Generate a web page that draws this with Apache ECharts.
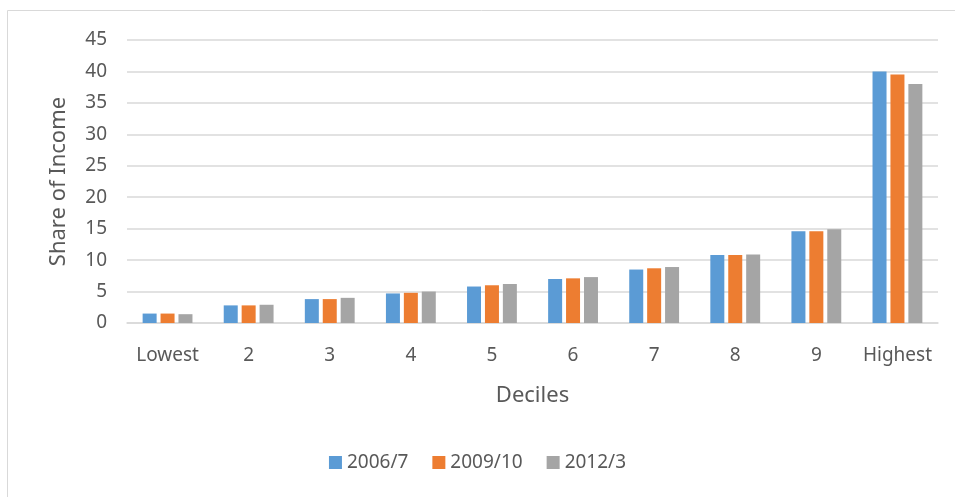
<!DOCTYPE html>
<html>
<head>
<meta charset="utf-8">
<script src="https://cdn.jsdelivr.net/npm/echarts@6/dist/echarts.min.js"></script>
<style>
  html, body { margin: 0; padding: 0; background: #fff; }
  #chart { width: 955px; height: 497px; }
</style>
</head>
<body>
<div id="chart"></div>
<script>
// deciles and income shares
const deciles = ["Lowest", "2", "3", "4", "5", "6", "7", "8", "9", "Highest"];
const share2006 = [1.5, 2.8, 3.8, 4.7, 5.8, 7.0, 8.5, 10.8, 14.6, 40.0];
const share2009 = [1.5, 2.8, 3.8, 4.8, 6.0, 7.1, 8.7, 10.8, 14.6, 39.5];
const share2012 = [1.4, 2.9, 4.0, 5.0, 6.2, 7.3, 8.9, 10.9, 14.9, 38.0];
const seriesNames = ["2006/7", "2009/10", "2012/3"];

const myChart = echarts.init(document.getElementById("chart"));
const font = "Noto Sans";
const textColor = "#595959";

myChart.setOption({
  animation: false,
  color: ["#5b9bd5", "#ed7d31", "#a5a5a5"],
  textStyle: { fontFamily: font },
  graphic: [
    {
      type: "rect",
      shape: { x: 7.5, y: 10.5, width: 960, height: 500 },
      style: { fill: "none", stroke: "#d9d9d9", lineWidth: 1 },
    },
  ],
  grid: { left: 127, right: 17, top: 40, bottom: 174 },
  legend: {
    bottom: 20,
    itemWidth: 13,
    itemHeight: 13,
    itemGap: 24,
    icon: "rect",
    textStyle: { color: textColor, fontSize: 19, fontFamily: font },
    data: seriesNames,
  },
  xAxis: {
    type: "category",
    data: deciles,
    name: "Deciles",
    nameLocation: "middle",
    nameGap: 62,
    nameTextStyle: { color: textColor, fontSize: 22, fontFamily: font },
    axisLine: { lineStyle: { color: "#d9d9d9", width: 1.5 } },
    axisTick: { show: false },
    axisLabel: { color: textColor, fontSize: 19, margin: 23, interval: 0, fontFamily: font },
  },
  yAxis: {
    type: "value",
    min: 0,
    max: 45,
    interval: 5,
    name: "Share of Income",
    nameLocation: "middle",
    nameGap: 57,
    nameTextStyle: { color: textColor, fontSize: 22, fontFamily: font },
    axisLine: { show: false },
    axisTick: { show: false },
    axisLabel: { color: textColor, fontSize: 19, margin: 20, fontFamily: font },
    splitLine: { lineStyle: { color: "#d9d9d9", width: 1.5 } },
  },
  series: [
    { name: seriesNames[0], type: "bar", data: share2006, barWidth: 14, barGap: "28%" },
    { name: seriesNames[1], type: "bar", data: share2009, barWidth: 14, barGap: "28%" },
    { name: seriesNames[2], type: "bar", data: share2012, barWidth: 14, barGap: "28%" },
  ],
});
</script>
</body>
</html>
